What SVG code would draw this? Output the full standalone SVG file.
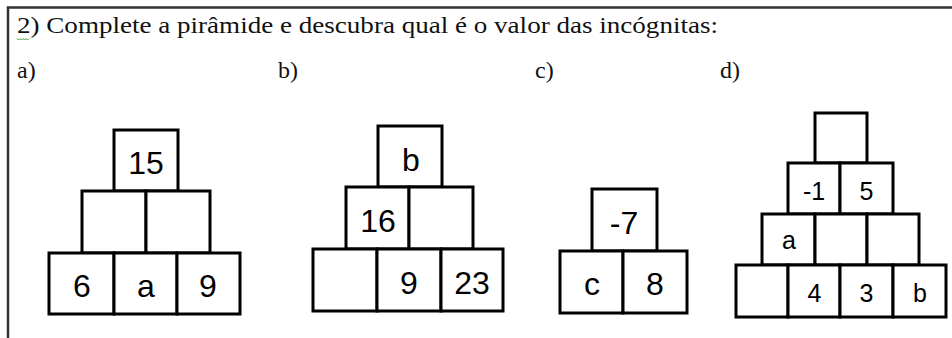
<svg xmlns="http://www.w3.org/2000/svg" width="952" height="338" viewBox="0 0 952 338">
<style>
.frame{fill:none;stroke:#333;stroke-width:2.5}
.title{font-family:"Liberation Serif","Times New Roman",serif;font-size:24px;fill:#111}
.cell rect{fill:#fff;stroke:#000;stroke-width:3}
.big{font-family:"Liberation Sans",Arial,sans-serif;font-size:32px;fill:#000;text-anchor:middle}
.small{font-family:"Liberation Sans",Arial,sans-serif;font-size:25px;fill:#000;text-anchor:middle}
</style>
<rect width="952" height="338" fill="#fff"/>
<path class="frame" d="M8,338 V7.5 H952"/>
<text class="title" x="17" y="33" textLength="701" lengthAdjust="spacingAndGlyphs">2) Complete a pirâmide e descubra qual é o valor das incógnitas:</text>
<path d="M17,38.5 l1.5,1.5 l1.5,-1.5 l1.5,1.5 l1.5,-1.5 l1.5,1.5 l1.5,-1.5 l1.5,1.5 l1.5,-1.5" fill="none" stroke="#3c9a3c" stroke-width="1"/>
<text class="title" x="17" y="78">a)</text>
<text class="title" x="278" y="78">b)</text>
<text class="title" x="535" y="78">c)</text>
<text class="title" x="720" y="78">d)</text>

<g id="pyramid-a">
<g id="a-r1c1" class="cell"><rect x="114" y="130" width="64" height="61"/><text class="big" x="146" y="174">15</text></g>
<g id="a-r2c1" class="cell"><rect x="82" y="191" width="64" height="62"/></g>
<g id="a-r2c2" class="cell"><rect x="146" y="191" width="64" height="62"/></g>
<g id="a-r3c1" class="cell"><rect x="49" y="253" width="65" height="61"/><text class="big" x="82" y="297">6</text></g>
<g id="a-r3c2" class="cell"><rect x="114" y="253" width="63" height="61"/><text class="big" x="146" y="297">a</text></g>
<g id="a-r3c3" class="cell"><rect x="177" y="253" width="63" height="61"/><text class="big" x="208" y="297">9</text></g>
</g>

<g id="pyramid-b">
<g id="b-r1c1" class="cell"><rect x="378" y="126" width="64" height="61"/><text class="big" x="411" y="171">b</text></g>
<g id="b-r2c1" class="cell"><rect x="346" y="187" width="63" height="62"/><text class="big" x="378" y="232">16</text></g>
<g id="b-r2c2" class="cell"><rect x="409" y="187" width="64" height="62"/></g>
<g id="b-r3c1" class="cell"><rect x="313" y="249" width="64" height="62"/></g>
<g id="b-r3c2" class="cell"><rect x="377" y="249" width="64" height="62"/><text class="big" x="409" y="294">9</text></g>
<g id="b-r3c3" class="cell"><rect x="441" y="249" width="62" height="62"/><text class="big" x="472" y="294">23</text></g>
</g>

<g id="pyramid-c">
<g id="c-r1c1" class="cell"><rect x="592" y="189" width="65" height="62"/><text class="big" x="624" y="234">-7</text></g>
<g id="c-r2c1" class="cell"><rect x="560" y="251" width="63" height="62"/><text class="big" x="592" y="295">c</text></g>
<g id="c-r2c2" class="cell"><rect x="623" y="251" width="64" height="62"/><text class="big" x="655" y="295">8</text></g>
</g>

<g id="pyramid-d">
<g id="d-r1c1" class="cell"><rect x="815" y="113" width="52" height="50"/></g>
<g id="d-r2c1" class="cell"><rect x="788" y="163" width="52" height="51"/><text class="small" x="814" y="200">-1</text></g>
<g id="d-r2c2" class="cell"><rect x="840" y="163" width="53" height="51"/><text class="small" x="866.5" y="200">5</text></g>
<g id="d-r3c1" class="cell"><rect x="762" y="214" width="53" height="51"/><text class="small" x="789" y="249">a</text></g>
<g id="d-r3c2" class="cell"><rect x="815" y="214" width="52" height="51"/></g>
<g id="d-r3c3" class="cell"><rect x="867" y="214" width="52" height="51"/></g>
<g id="d-r4c1" class="cell"><rect x="736" y="265" width="52" height="52"/></g>
<g id="d-r4c2" class="cell"><rect x="788" y="265" width="52" height="52"/><text class="small" x="814.5" y="302">4</text></g>
<g id="d-r4c3" class="cell"><rect x="840" y="265" width="53" height="52"/><text class="small" x="866.5" y="302">3</text></g>
<g id="d-r4c4" class="cell"><rect x="893" y="265" width="53" height="52"/><text class="small" x="920" y="302">b</text></g>
</g>
</svg>
